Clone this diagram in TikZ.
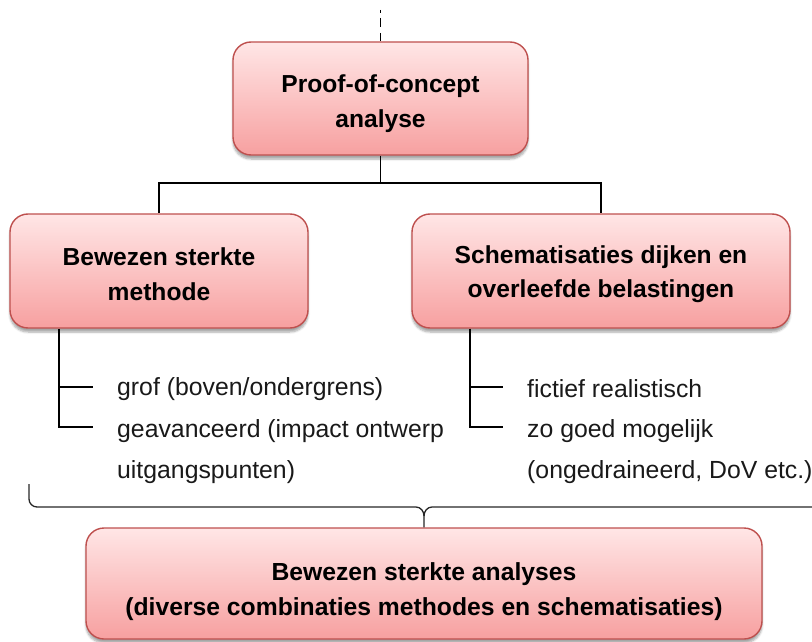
\documentclass[tikz,border=0pt]{standalone}
\usepackage{fontspec}
\setmainfont{Liberation Sans}
\usetikzlibrary{shadows.blur,calc}
\definecolor{boxtop}{RGB}{255,230,230}
\definecolor{boxbot}{RGB}{247,160,160}
\definecolor{boxedge}{RGB}{190,80,78}
\definecolor{txt}{RGB}{25,25,25}
\newcommand{\lowerby}[1]{\rule{0pt}{#1}}
\tikzset{
  box/.style={draw=boxedge, line width=1.4pt, rounded corners=18pt,
    top color=boxtop, bottom color=boxbot, align=center, text=black,
    font=\bfseries\fontsize{24.6}{34.5}\selectfont,
    blur shadow={shadow blur steps=6, shadow xshift=0pt, shadow yshift=-4pt, shadow opacity=35},
    inner sep=0pt},
  conn/.style={draw=black, line width=1.8pt},
  item/.style={anchor=west, align=left, text=txt, inner sep=0pt,
    font=\fontsize{24.8}{41}\selectfont},
  bracel/.style={draw=black!85, line width=1.3pt}
}
\begin{document}
\begin{tikzpicture}[x=1pt,y=-1pt]
\useasboundingbox (0,0) rectangle (812,642);
% boxes
\node[box, minimum width=295pt, minimum height=113pt] (top) at (380.5,98.5) {\lowerby{28pt}Proof-of-concept\\analyse};
\node[box, minimum width=298pt, minimum height=114pt] (left) at (159,271) {\lowerby{24pt}Bewezen sterkte\\methode};
\node[box, minimum width=378pt, minimum height=114pt] (right) at (601,271) {\lowerby{24pt}Schematisaties dijken en\\overleefde belastingen};
\node[box, minimum width=676pt, minimum height=111pt, font=\bfseries\fontsize{24.7}{35}\selectfont] (bot) at (424,583.5) {\lowerby{34pt}Bewezen sterkte analyses\\(diverse combinaties methodes en schematisaties)};
% top dashed
\coordinate (tin) at (380.5,10);
\draw[draw=black, line width=1.5pt, dash pattern=on 3pt off 5pt on 9pt off 6pt on 12pt off 20pt] (tin) -- (top.north);
% tree connectors
\coordinate (j) at (380.5,183);
\draw[conn] (top.south) -- (j);
\draw[conn] (j) -| (left.north);
\draw[conn] (j) -| (right.north);
% left items
\coordinate (l1) at (93,387);
\coordinate (l2) at (93,427);
\draw[conn] ([xshift=50pt]left.south west) |- (l2);
\draw[conn] ([xshift=50pt]left.south west |- l1) -- (l1);
\node[item] (g1) at (117,389) {grof (boven/ondergrens)};
\node[item] (g2) at (117,452) {geavanceerd (impact ontwerp\\uitgangspunten)};
% right items
\coordinate (r1) at (503,387);
\coordinate (r2) at (503,427);
\draw[conn] ([xshift=59pt]right.south west) |- (r2);
\draw[conn] ([xshift=59pt]right.south west |- r1) -- (r1);
\node[item] (f1) at (527,389) {fictief realistisch};
\node[item] (f2) at (527,452) {zo goed mogelijk\\(ongedraineerd, DoV etc.)};
% brace
\coordinate (bl) at (29,484);
\coordinate (br) at (820,507);
\draw[bracel] (bl) -- (29,499) to[out=-90,in=180] (37,507) -- (416,507)
  to[out=0,in=90] (424,516) -- (bot.north);
\draw[bracel] (424,516) to[out=90,in=180] (432,507) -- (br);
\end{tikzpicture}
\end{document}
